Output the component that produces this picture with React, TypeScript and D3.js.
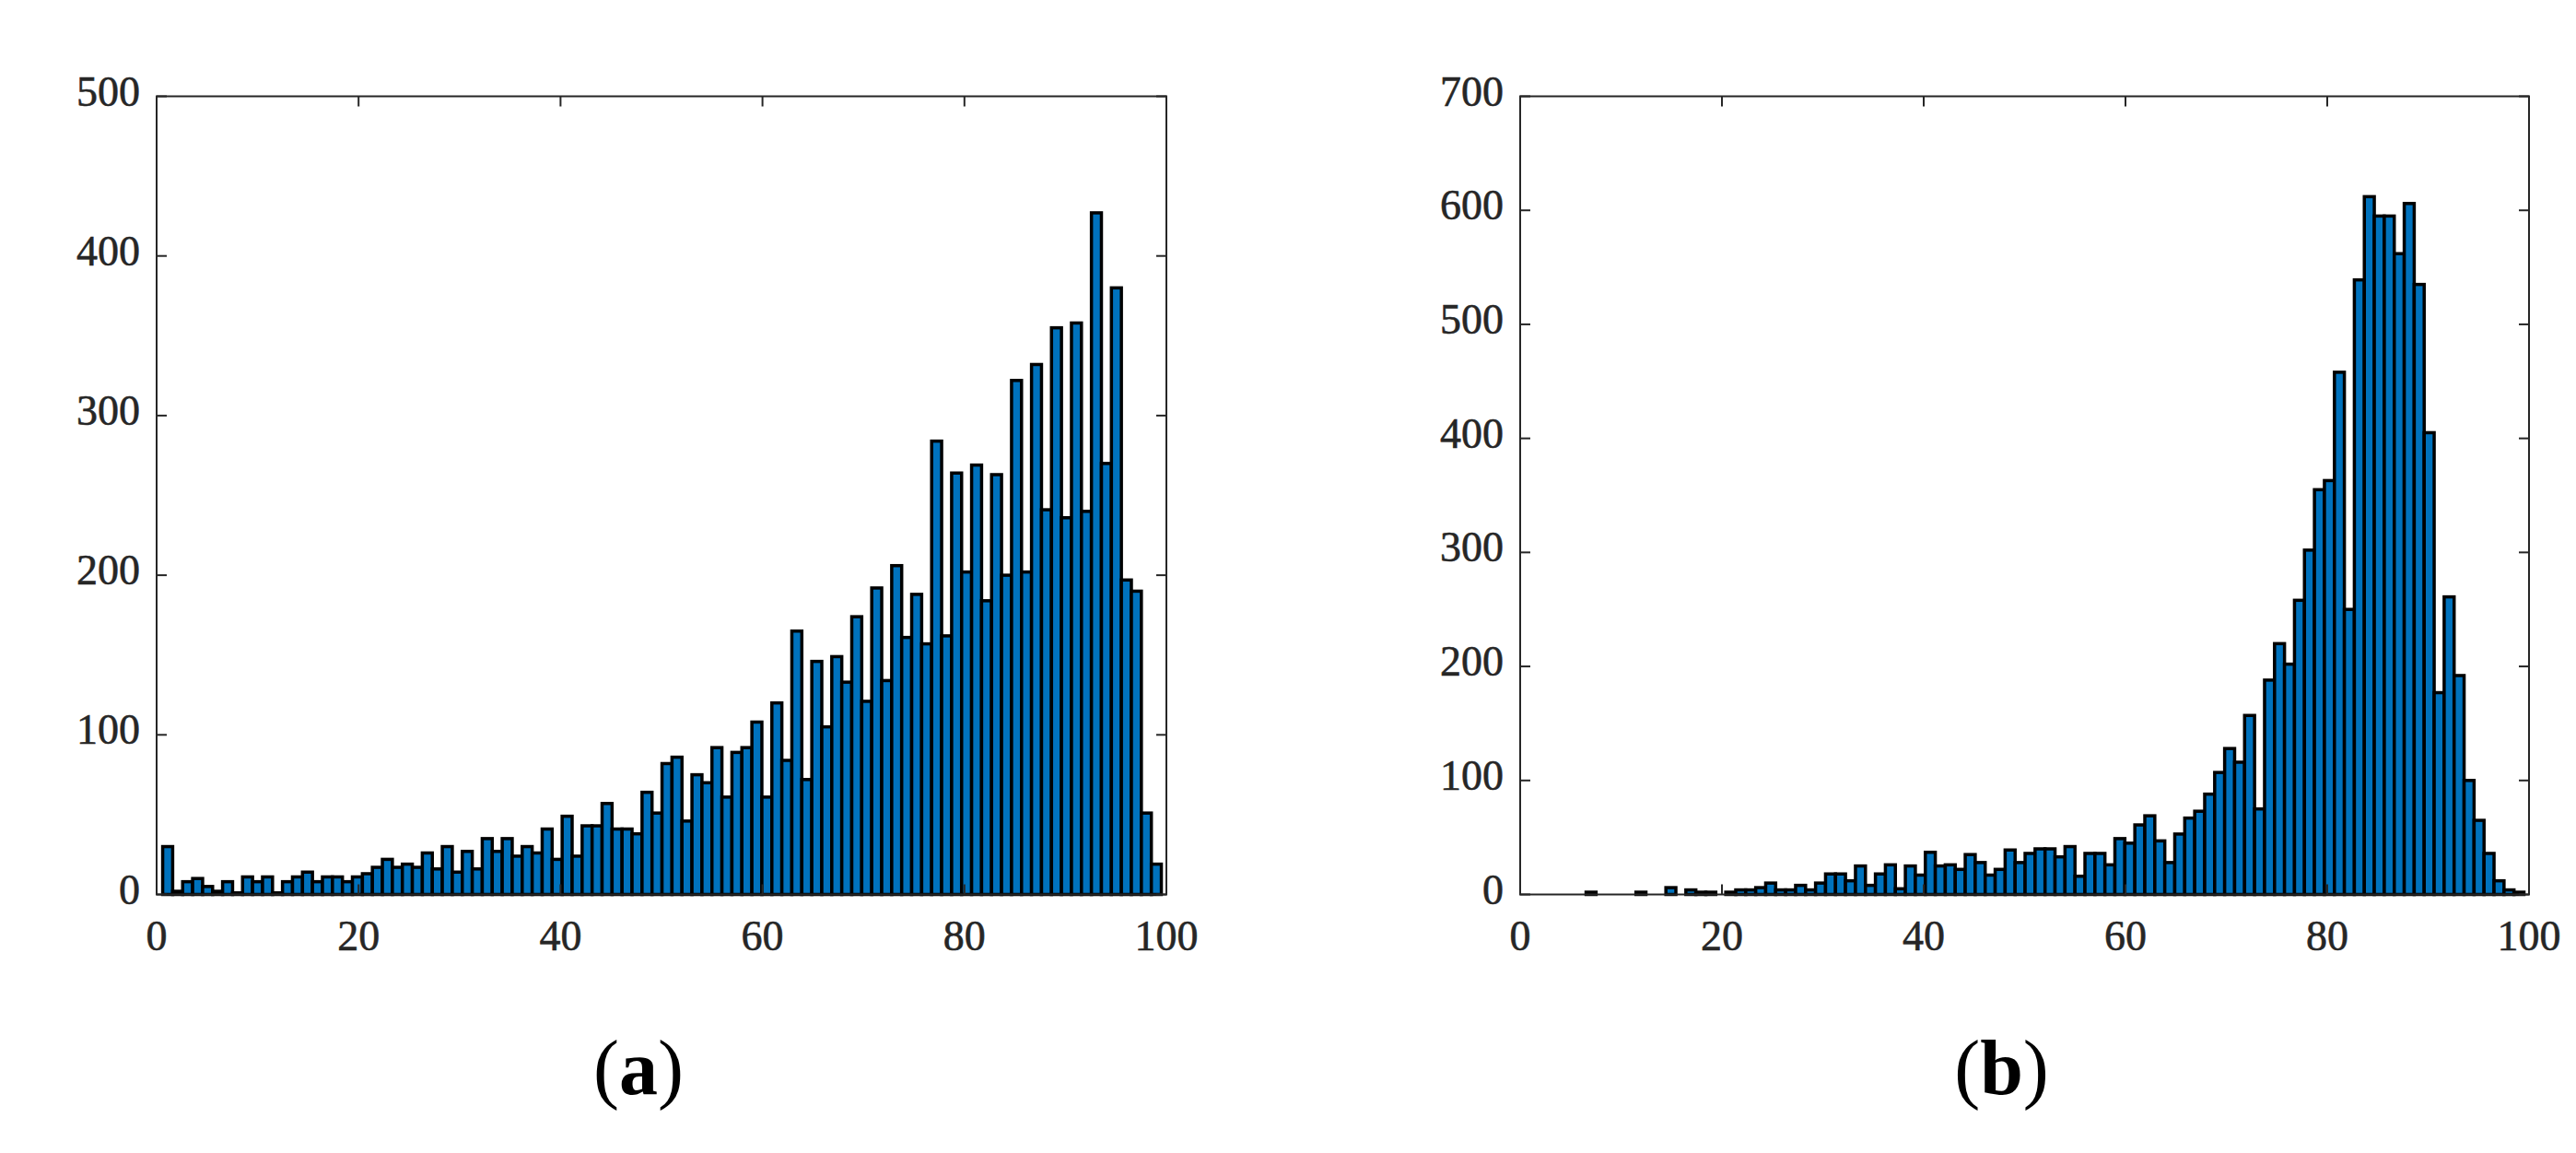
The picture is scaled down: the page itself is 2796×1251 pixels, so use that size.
import React from "react";
import * as d3 from "d3";

// Histogram bin layout (data units): 100 bins starting at binStart, each binWidth wide
const binStart = 0.6;
const binWidth = 0.989;

// Panel (a) counts per bin
const countsA = [
  30, 2, 8, 10, 5, 2, 8, 1, 11, 8,
  11, 1, 8, 11, 14, 8, 11, 11, 8, 11,
  13, 17, 22, 17, 19, 17, 26, 16, 30, 14,
  27, 16, 35, 27, 35, 24, 30, 26, 41, 22,
  49, 24, 43, 43, 57, 41, 41, 38, 64, 51,
  82, 86, 46, 75, 70, 92, 61, 89, 92, 108,
  61, 120, 84, 165, 72, 146, 105, 149, 133, 174,
  121, 192, 134, 206, 161, 188, 157, 284, 162, 264,
  202, 269, 184, 263, 200, 322, 202, 332, 241, 355,
  236, 358, 240, 427, 270, 380, 197, 190, 51, 19,
];

// Panel (b) counts per bin
const countsB = [
  0, 0, 0, 0, 0, 0, 2, 0, 0, 0,
  0, 2, 0, 0, 6, 0, 4, 2, 2, 0,
  2, 4, 4, 6, 10, 4, 4, 8, 4, 10,
  18, 18, 12, 25, 8, 18, 26, 5, 25, 17,
  37, 25, 26, 22, 35, 28, 17, 22, 39, 28,
  36, 40, 40, 33, 42, 16, 36, 36, 26, 49,
  45, 61, 69, 47, 28, 53, 67, 73, 88, 107,
  128, 116, 157, 75, 188, 220, 202, 258, 302, 355,
  363, 458, 250, 539, 612, 595, 595, 562, 606, 535,
  405, 177, 261, 192, 100, 65, 36, 12, 4, 2,
];

const xTicks = [0, 20, 40, 60, 80, 100];
const yTicksA = [0, 100, 200, 300, 400, 500];
const yTicksB = [0, 100, 200, 300, 400, 500, 600, 700];
const captions = ["a", "b"];

const W = 2796;
const H = 1251;
const AXIS = "#262626";
const BAR = "#0072BD";
const FONT = "'Liberation Serif', 'Times New Roman', serif";

type PanelProps = {
  counts: number[];
  yMax: number;
  yTicks: number[];
  left: number;
  right: number;
  caption: string;
};

function Panel({ counts, yMax, yTicks, left, right, caption }: PanelProps) {
  const top = 104.5;
  const bottom = 970.5;
  const x = d3.scaleLinear().domain([0, 100]).range([left, right]);
  const y = d3.scaleLinear().domain([0, yMax]).range([bottom, top]);
  const tickLen = 11;
  const capX = (left + right) / 2 - 25;

  return (
    <g>
      {counts.map((c, i) => {
        const x0 = x(binStart + i * binWidth);
        const x1 = x(binStart + (i + 1) * binWidth);
        return (
          <rect
            key={i}
            x={x0}
            y={y(c)}
            width={x1 - x0}
            height={y(0) - y(c)}
            fill={BAR}
            stroke="#000"
            strokeWidth={3.5}
          />
        );
      })}
      {/* box */}
      <rect
        x={left}
        y={top}
        width={right - left}
        height={bottom - top}
        fill="none"
        stroke={AXIS}
        strokeWidth={2}
      />
      {/* x ticks (bottom and top, inward) */}
      {xTicks.map((t) => (
        <g key={"x" + t}>
          <line x1={x(t)} x2={x(t)} y1={bottom} y2={bottom - tickLen} stroke={AXIS} strokeWidth={2} />
          <line x1={x(t)} x2={x(t)} y1={top} y2={top + tickLen} stroke={AXIS} strokeWidth={2} />
          <text
            x={x(t)}
            y={bottom + 60.5}
            textAnchor="middle"
            fontFamily={FONT}
            fontSize={46}
            fill={AXIS}
            stroke={AXIS}
            strokeWidth={0.6}
          >
            {t}
          </text>
        </g>
      ))}
      {/* y ticks (left and right, inward) */}
      {yTicks.map((t) => (
        <g key={"y" + t}>
          <line x1={left} x2={left + tickLen} y1={y(t)} y2={y(t)} stroke={AXIS} strokeWidth={2} />
          <line x1={right} x2={right - tickLen} y1={y(t)} y2={y(t)} stroke={AXIS} strokeWidth={2} />
          <text
            x={left - 18}
            y={y(t) + 10}
            textAnchor="end"
            fontFamily={FONT}
            fontSize={46}
            fill={AXIS}
            stroke={AXIS}
            strokeWidth={0.6}
          >
            {t}
          </text>
        </g>
      ))}
      <text x={capX} y={1187} textAnchor="middle" fontFamily={FONT} fontSize={84} fill="#000">
        (<tspan fontWeight="bold">{caption}</tspan>)
      </text>
    </g>
  );
}

export default function App() {
  return (
    <svg
      width={W}
      height={H}
      viewBox={`0 0 ${W} ${H}`}
      style={{ position: "absolute", left: 0, top: 0, background: "#fff" }}
    >
      <rect x={0} y={0} width={W} height={H} fill="#fff" />
      <Panel counts={countsA} yMax={500} yTicks={yTicksA} left={170} right={1266} caption={captions[0]} />
      <Panel counts={countsB} yMax={700} yTicks={yTicksB} left={1650} right={2745} caption={captions[1]} />
    </svg>
  );
}
